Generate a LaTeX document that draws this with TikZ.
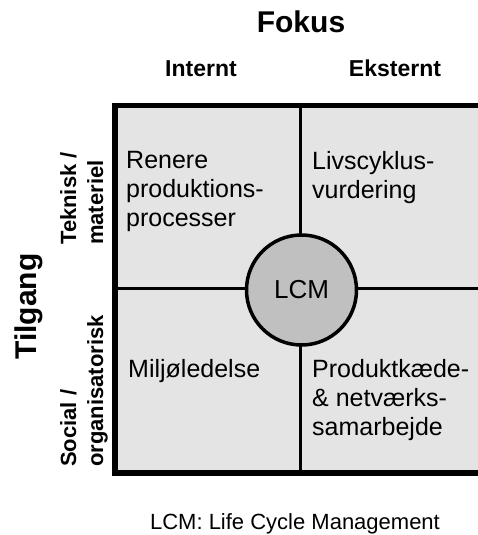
\documentclass[tikz,border=0pt]{standalone}
\usepackage{fontspec}
\setmainfont{Liberation Sans}
\begin{document}
\begin{tikzpicture}[x=1pt,y=-1pt,
  cellfill/.style={fill=cellgray},
  frame/.style={draw=black,line width=5.5pt},
  divider/.style={draw=black,line width=3pt},
  hub/.style={circle,draw=black,line width=3.5pt,fill=hubgray,minimum size=110pt,inner sep=0pt,font=\fontsize{26}{30}\selectfont},
  heading/.style={inner sep=0pt,anchor=base,font=\bfseries\fontsize{30}{34}\selectfont},
  colhead/.style={inner sep=0pt,anchor=base,font=\bfseries\fontsize{23}{27}\selectfont},
  rowhead/.style={inner sep=0pt,rotate=90,anchor=north west,align=left,font=\bfseries\fontsize{22}{27}\selectfont},
  celltext/.style={inner sep=0pt,anchor=north west,align=left,font=\fontsize{25}{29}\selectfont},
  note/.style={inner sep=0pt,anchor=base,font=\fontsize{22}{26}\selectfont}]
\definecolor{cellgray}{HTML}{E4E4E4}
\definecolor{hubgray}{HTML}{C0C0C0}
\useasboundingbox (0,0) rectangle (477,535);

% grid corners and divider ends
\coordinate (tl) at (115,105.5);
\coordinate (br) at (484,473);
\coordinate (ntop) at (300,105.5);
\coordinate (nbot) at (300,473);
\coordinate (wmid) at (115,288);
\coordinate (emid) at (484,288);

% four cells, dividers and outer frame
\fill[cellfill] (tl) rectangle (br);
\draw[divider] (ntop) -- (nbot);
\draw[divider] (wmid) -- (emid);
\draw[frame] (tl) rectangle (br);

% central hub
\node[hub] (lcm) at (301.5,290) {LCM};

% headings
\node[heading] (fokus) at (301,33) {Fokus};
\node[colhead] (internt) at (201,77) {Internt};
\node[colhead] (eksternt) at (395,77) {Eksternt};
\node[heading,rotate=90] (tilgang) at (36.5,306.5) {Tilgang};
\node[rowhead] (teknisk) at (60,245) {Teknisk /\\materiel};
\node[rowhead] (social) at (60,467) {Social /\\organisatorisk};

% cell contents
\node[celltext] (renere) at (126,151) {Renere\\produktions-\\processer};
\node[celltext] (lca) at (312,151) {Livscyklus-\\vurdering};
\node[celltext] (miljo) at (128,359) {Miljøledelse};
\node[celltext] (kaede) at (312,359) {Produktkæde-\\\& netværks-\\samarbejde};

% footnote
\node[note] (caption) at (295,529) {LCM: Life Cycle Management};
\end{tikzpicture}
\end{document}
